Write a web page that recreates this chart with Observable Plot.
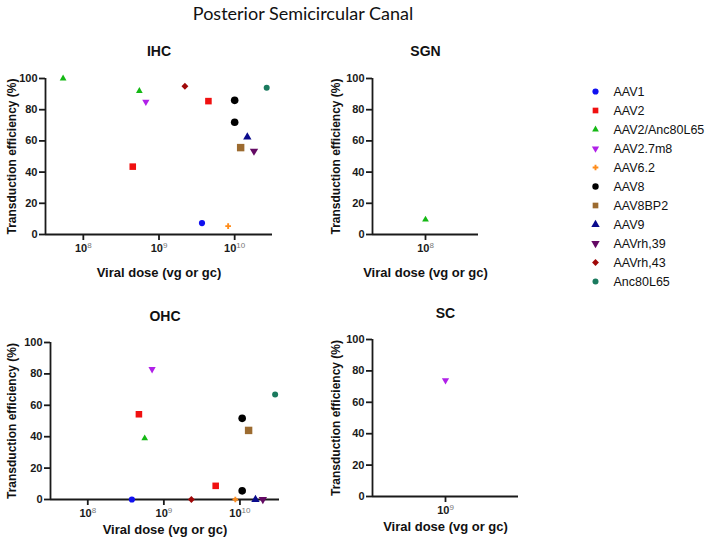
<!DOCTYPE html>
<html><head><meta charset="utf-8">
<script src="https://cdn.jsdelivr.net/npm/d3@7"></script>
<script src="https://cdn.jsdelivr.net/npm/@observablehq/plot@0.6"></script>
<style>
body{margin:0;background:#fff;}
#root{position:relative;width:708px;height:549px;overflow:hidden;font-family:"Liberation Sans",Arial,sans-serif;}
.panel{position:absolute;}
.panel svg text{font-family:"Liberation Sans",Arial,sans-serif;}
#title{position:absolute;left:103px;top:3px;width:400px;text-align:center;font-family:Lato,"Open Sans",sans-serif;font-size:18px;line-height:20px;color:#111;}
</style></head>
<body>
<div id="root">
  <div id="title">Posterior Semicircular Canal</div>
  <div class="panel" id="ihc" style="left:0;top:40px"></div>
  <div class="panel" id="sgn" style="left:300px;top:40px"></div>
  <div class="panel" id="ohc" style="left:0;top:300px"></div>
  <div class="panel" id="sc" style="left:300px;top:300px"></div>
  <div class="panel" id="legend" style="left:580px;top:60px"></div>
</div>
<script>
// ---- data ----
const vectors = ["AAV1","AAV2","AAV2/Anc80L65","AAV2.7m8","AAV6.2","AAV8","AAV8BP2","AAV9","AAVrh,39","AAVrh,43","Anc80L65"];
const vectorColors = ["#1010f0","#f01010","#14b814","#b020e8","#ff8c1a","#000000","#9c6b30","#0a0a8c","#640a64","#a00808","#1a7a5e"];

const ihcVector = ["AAV2/Anc80L65","AAV2/Anc80L65","AAV2.7m8","AAVrh,43","AAV2","AAV8","AAV8","AAV9","AAV8BP2","AAVrh,39","Anc80L65","AAV2","AAV1","AAV6.2"];
const ihcDose   = [5.4e7,5.5e8,6.7e8,2.2e9,4.5e9,1.0e10,1.0e10,1.47e10,1.2e10,1.8e10,2.65e10,4.5e8,3.7e9,8.2e9];
const ihcEff    = [100,92,85,95,85.5,86,72,62.5,55.7,53.5,94,43.5,7.3,5.4];

const ohcVector = ["AAV1","AAV2","AAV2.7m8","AAV2/Anc80L65","AAVrh,43","AAV2","AAV6.2","AAV8","AAV8","AAV8BP2","AAV9","AAVrh,39","Anc80L65"];
const ohcDose   = [3.8e8,4.7e8,7.0e8,5.6e8,2.3e9,4.8e9,8.7e9,1.07e10,1.07e10,1.3e10,1.6e10,2.0e10,2.9e10];
const ohcEff    = [0,54.3,83,39,0,8.7,0,51.7,5.5,44,0,0,66.8];

const sgnVector = ["AAV2/Anc80L65"];
const sgnDose   = [1e8];
const sgnEff    = [9.6];

const scVector = ["AAV2.7m8"];
const scDose   = [1e9];
const scEff    = [74];

const yTicks = [0,20,40,60,80,100];
const yLabel = "Transduction efficiency (%)";
const xLabel = "Viral dose (vg or gc)";

// ---- symbols ----
const sqrt3 = Math.sqrt(3);
const triangleDown = {draw(ctx, size){ const y = -Math.sqrt(size/(sqrt3*3)); ctx.moveTo(0,-y*2); ctx.lineTo(-sqrt3*y,y); ctx.lineTo(sqrt3*y,y); ctx.closePath(); }};
const symbolOf = {
  "AAV1": d3.symbolCircle, "AAV2": d3.symbolSquare, "AAV2/Anc80L65": d3.symbolTriangle,
  "AAV2.7m8": triangleDown, "AAV6.2": d3.symbolCross, "AAV8": d3.symbolCircle,
  "AAV8BP2": d3.symbolSquare, "AAV9": d3.symbolTriangle, "AAVrh,39": triangleDown,
  "AAVrh,43": d3.symbolDiamond2, "Anc80L65": d3.symbolCircle
};
const rOf = {"AAV1":3.1,"AAV2":3.7,"AAV2/Anc80L65":2.5,"AAV2.7m8":2.7,"AAV6.2":2.4,"AAV8":3.8,"AAV8BP2":4.2,"AAV9":3.1,"AAVrh,39":3.1,"AAVrh,43":3.1,"Anc80L65":3.0};
const colorOf = Object.fromEntries(vectors.map((v,i)=>[v,vectorColors[i]]));

function rows(vs, ds, es){ return vs.map((v,i)=>({vector:v, dose:ds[i], eff:es[i]})); }

const FONT = '"Liberation Sans", Arial, sans-serif';
const axisColor = "#1a1a1a";
function panel(id, {title, vs, ds, es, xDomain, xTicks, width, height, ml, mr, mt, mb, titleDy, yLabelDx, xLabelDy}){
  const data = rows(vs, ds, es);
  const midDy = (height - mt - mb) / 2;
  const dotMarks = vectors.filter(v => data.some(d=>d.vector===v)).map(v =>
    Plot.dot(data.filter(d=>d.vector===v), {x:"dose", y:"eff", symbol: symbolOf[v], fill: colorOf[v], r: rOf[v]}));
  const svg = Plot.plot({
    width, height, marginLeft: ml, marginRight: mr, marginTop: mt, marginBottom: mb,
    style: `font-family: ${FONT}; color: ${axisColor}; background: white; overflow: visible;`,
    x: {type: "log", domain: xDomain},
    y: {domain: [0,100]},
    marks: [
      Plot.ruleY([0], {stroke: axisColor, strokeWidth: 1.8}),
      Plot.ruleX([xDomain[0]], {y1: 0, y2: 100, stroke: axisColor, strokeWidth: 1.8}),
      Plot.axisX({ticks: xTicks, tickFormat: d => "10^" + Math.round(Math.log10(d)), tickSize: 6, tickPadding: 4, strokeWidth: 1.8, fontSize: 11, fontWeight: "bold", fontFamily: FONT, label: null}),
      Plot.axisY({ticks: yTicks, tickSize: 6, tickPadding: 2, strokeWidth: 1.8, fontSize: 11, fontWeight: "bold", fontFamily: FONT, label: null}),
      Plot.text([title], {text: d=>d, frameAnchor: "top", dy: titleDy, fontSize: 14, fontWeight: "bold", fontFamily: FONT, fill: "#111"}),
      Plot.text([yLabel], {text: d=>d, frameAnchor: "top-left", dx: yLabelDx, dy: midDy, rotate: -90, textAnchor: "middle", fontSize: 12, fontWeight: "bold", fontFamily: FONT, fill: "#111"}),
      Plot.text([xLabel], {text: d=>d, frameAnchor: "bottom", dy: xLabelDy, fontSize: 13, fontWeight: "bold", fontFamily: FONT, fill: "#111"}),
      ...dotMarks
    ]
  });
  d3.select(svg).selectAll('g[aria-label="x-axis tick label"] text').each(function(){
    const t = this.textContent;
    if (t.startsWith("10^")) {
      const e = t.slice(3);
      const s = d3.select(this);
      s.text(null);
      s.append("tspan").text("10");
      s.append("tspan").attr("dy","-0.5em").attr("font-size","8").attr("font-weight","normal").attr("fill","#777").text(e);
    }
  });
  document.getElementById(id).appendChild(svg);
}

panel("ihc", {title:"IHC", vs:ihcVector, ds:ihcDose, es:ihcEff, xDomain:[Math.pow(10,7.5), Math.pow(10,10.5)], xTicks:[1e8,1e9,1e10],
  width:300, height:250, ml:45, mr:28, mt:38, mb:56, titleDy:-32, yLabelDx:-38, xLabelDy:42});
panel("sgn", {title:"SGN", vs:sgnVector, ds:sgnDose, es:sgnEff, xDomain:[Math.pow(10,7.5), Math.pow(10,8.5)], xTicks:[1e8],
  width:200, height:250, ml:72, mr:22, mt:38, mb:56, titleDy:-32, yLabelDx:-41, xLabelDy:42});
panel("ohc", {title:"OHC", vs:ohcVector, ds:ohcDose, es:ohcEff, xDomain:[Math.pow(10,7.51), Math.pow(10,10.52)], xTicks:[1e8,1e9,1e10],
  width:300, height:249, ml:50, mr:21, mt:42, mb:50, titleDy:-31, yLabelDx:-43, xLabelDy:34});
panel("sc", {title:"SC", vs:scVector, ds:scDose, es:scEff, xDomain:[Math.pow(10,8.5), Math.pow(10,9.5)], xTicks:[1e9],
  width:230, height:249, ml:72, mr:12, mt:39, mb:53, titleDy:-31, yLabelDx:-41, xLabelDy:34});

// ---- legend ----
const legend = Plot.plot({
  width: 128, height: 250, margin: 0,
  style: `font-family: ${FONT}; color: #111; background: white; overflow: visible;`,
  y: {type: "point", domain: vectors, range: [20, 231], axis: null},
  marks: [
    ...vectors.map(v => Plot.dot([v], {y: d=>d, frameAnchor: "left", dx: 15, symbol: symbolOf[v], fill: colorOf[v], r: Math.min(rOf[v], 3.2)})),
    Plot.text(vectors, {y: d=>d, text: d=>d, frameAnchor: "left", dx: 33, textAnchor: "start", fontSize: 12.5, fontFamily: FONT, fill: "#111"})
  ]
});
document.getElementById("legend").appendChild(legend);
</script>
</body></html>
